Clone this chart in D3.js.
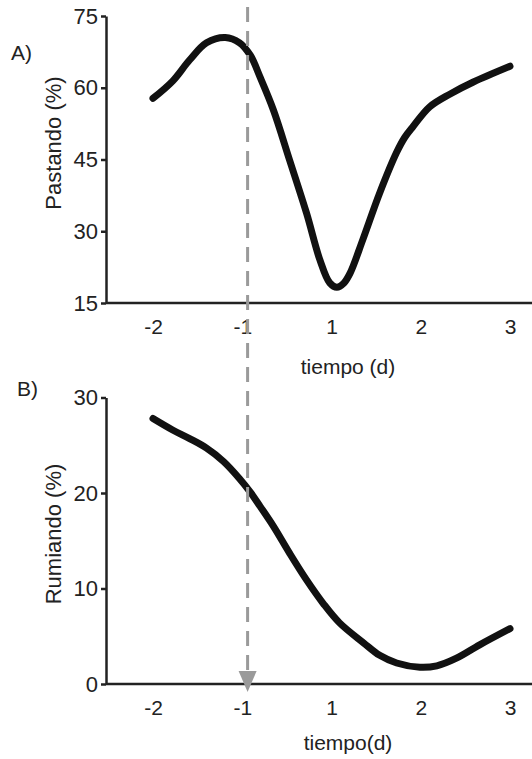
<!DOCTYPE html>
<meta charset="utf-8">
<style>
	body { margin: 0; background: #fff; }
	text { font-family: "Liberation Sans", Arial, sans-serif; fill: #222; }
	.domain, .tick line { stroke: #222; stroke-width: 2.5; }
	.curve { fill: none; stroke: #111; stroke-width: 7; stroke-linecap: round; stroke-linejoin: round; }
</style>
<svg width="532" height="759"></svg>
<script src="https://cdn.jsdelivr.net/npm/d3@7"></script>
<script>

// x axis is categorical days (no day 0), positions are 0..4
var dayLabels = ["-2", "-1", "1", "2", "3"];

// A) Pastando (%)
var pastandoPos = [0, 0.22, 0.41, 0.60, 0.81, 0.97, 1.09, 1.20, 1.35, 1.53, 1.72, 1.87, 1.98, 2.06, 2.14, 2.21, 2.35, 2.54, 2.73, 2.82, 2.91, 3.10, 3.33, 3.59, 4.0];
var pastandoVal = [57.8, 61.4, 65.8, 69.4, 70.5, 69.4, 66.8, 62.2, 55.3, 44.9, 33.8, 24.0, 19.2, 18.3, 19.2, 21.3, 28.2, 38.0, 46.5, 49.6, 51.8, 56.0, 58.7, 61.2, 64.5];
var pastandoTicks = [15, 30, 45, 60, 75];

// B) Rumiando (%)
var rumiandoPos = [0, 0.22, 0.41, 0.60, 0.79, 0.97, 1.09, 1.20, 1.35, 1.53, 1.72, 1.91, 2.09, 2.36, 2.54, 2.73, 2.99, 3.18, 3.40, 3.66, 4.0];
var rumiandoVal = [27.8, 26.6, 25.7, 24.7, 23.3, 21.5, 20.1, 18.6, 16.5, 13.7, 10.9, 8.4, 6.4, 4.3, 3.0, 2.2, 1.75, 1.9, 2.7, 4.1, 5.8];
var rumiandoTicks = [0, 10, 20, 30];

// the event marked by the dashed arrow (just right of day -1)
var eventPos = 1.06;

var svg = d3.select("svg");

var axisLeftX = 106;
var x = d3.scaleLinear().domain([0, 4]).range([153, 510]);

var yA = d3.scaleLinear().domain([15, 75]).range([303, 16]);
var yB = d3.scaleLinear().domain([0, 30]).range([684, 397.5]);

function drawPanel(y, ticks, pos, vals, yTitle, yTitleCenter, xTitle, xTitleY, letter, letterX, letterY) {
	var g = svg.append("g");

	// y axis
	g.append("g")
		.attr("transform", "translate(" + axisLeftX + ",0)")
		.call(d3.axisLeft(y).tickValues(ticks).tickSize(5).tickSizeOuter(0).tickPadding(3))
		.call(function(a) {
			a.selectAll("text").style("font-size", "22px").style("fill", "#222");
		});

	// x axis line, no tick marks
	g.append("g")
		.attr("transform", "translate(0," + y.range()[0] + ")")
		.call(d3.axisBottom(x).tickValues(d3.range(dayLabels.length))
			.tickFormat(function(i) { return dayLabels[i]; })
			.tickSize(0).tickPadding(16))
		.call(function(a) {
			a.select(".domain").attr("d", "M" + axisLeftX + ",0H532");
			a.selectAll("text").style("font-size", "21px").style("fill", "#222");
		});

	var line = d3.line()
		.x(function(d, i) { return x(pos[i]); })
		.y(function(d) { return y(d); })
		.curve(d3.curveCatmullRom.alpha(0.5));

	g.append("path")
		.datum(vals)
		.attr("class", "curve")
		.attr("d", line);

	g.append("text")
		.attr("transform", "translate(61," + yTitleCenter + ") rotate(-90)")
		.attr("text-anchor", "middle")
		.style("font-size", "22px")
		.text(yTitle);

	g.append("text")
		.attr("x", 348)
		.attr("y", xTitleY)
		.attr("text-anchor", "middle")
		.style("font-size", "21px")
		.text(xTitle);

	g.append("text")
		.attr("x", letterX)
		.attr("y", letterY)
		.style("font-size", "21px")
		.text(letter);
}

drawPanel(yA, pastandoTicks, pastandoPos, pastandoVal, "Pastando (%)", 143, "tiempo (d)", 374, "A)", 11, 60);
drawPanel(yB, rumiandoTicks, rumiandoPos, rumiandoVal, "Rumiando (%)", 534, "tiempo(d)", 750, "B)", 17, 396);

// dashed marker running through both panels, ending in an arrow
var ex = x(eventPos);
svg.append("line")
	.attr("x1", ex).attr("x2", ex)
	.attr("y1", yA(75) - 9)
	.attr("y2", yB(0) - 12)
	.attr("stroke", "#9a9a9a")
	.attr("stroke-width", 3)
	.attr("stroke-dasharray", "15,9");

svg.append("path")
	.attr("d", "M" + (ex - 9) + "," + (yB(0) - 13) + "L" + (ex + 9) + "," + (yB(0) - 13) + "L" + ex + "," + (yB(0) + 8) + "Z")
	.attr("fill", "#9a9a9a");

</script>
